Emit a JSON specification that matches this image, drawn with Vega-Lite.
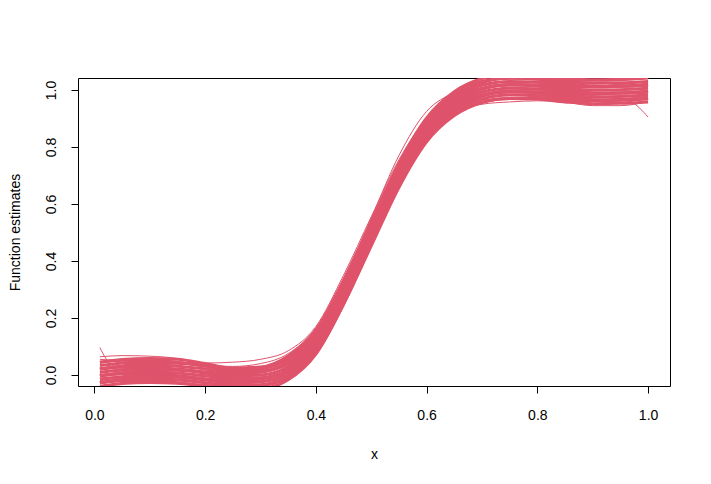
{
  "$schema": "https://vega.github.io/schema/vega-lite/v6.json",
  "width": 592,
  "height": 308,
  "autosize": {"type": "none"},
  "padding": {"left": 78, "top": 78, "right": 41, "bottom": 98},
  "background": "white",
  "config": {
    "view": {"stroke": "black", "strokeWidth": 1},
    "font": "Liberation Sans"
  },
  "datasets": {
    "core": [
      {"c":1,"x":0.01,"y":-0.039},{"c":1,"x":0.05,"y":-0.030},{"c":1,"x":0.1,"y":-0.026},{"c":1,"x":0.15,"y":-0.029},{"c":1,"x":0.2,"y":-0.039},{"c":1,"x":0.25,"y":-0.050},{"c":1,"x":0.3,"y":-0.048},{"c":1,"x":0.35,"y":-0.017},{"c":1,"x":0.4,"y":0.073},{"c":1,"x":0.45,"y":0.248},{"c":1,"x":0.5,"y":0.453},{"c":1,"x":0.55,"y":0.658},{"c":1,"x":0.6,"y":0.818},{"c":1,"x":0.65,"y":0.910},{"c":1,"x":0.7,"y":0.956},{"c":1,"x":0.75,"y":0.970},{"c":1,"x":0.8,"y":0.968},{"c":1,"x":0.85,"y":0.958},{"c":1,"x":0.9,"y":0.952},{"c":1,"x":0.95,"y":0.953},{"c":1,"x":1.0,"y":0.958},
      {"c":2,"x":0.01,"y":-0.027},{"c":2,"x":0.05,"y":-0.020},{"c":2,"x":0.1,"y":-0.020},{"c":2,"x":0.15,"y":-0.027},{"c":2,"x":0.2,"y":-0.037},{"c":2,"x":0.25,"y":-0.044},{"c":2,"x":0.3,"y":-0.038},{"c":2,"x":0.35,"y":-0.007},{"c":2,"x":0.4,"y":0.079},{"c":2,"x":0.45,"y":0.254},{"c":2,"x":0.5,"y":0.459},{"c":2,"x":0.55,"y":0.664},{"c":2,"x":0.6,"y":0.824},{"c":2,"x":0.65,"y":0.916},{"c":2,"x":0.7,"y":0.958},{"c":2,"x":0.75,"y":0.970},{"c":2,"x":0.8,"y":0.970},{"c":2,"x":0.85,"y":0.964},{"c":2,"x":0.9,"y":0.962},{"c":2,"x":0.95,"y":0.965},{"c":2,"x":1.0,"y":0.972},
      {"c":3,"x":0.01,"y":-0.027},{"c":3,"x":0.05,"y":-0.018},{"c":3,"x":0.1,"y":-0.014},{"c":3,"x":0.15,"y":-0.017},{"c":3,"x":0.2,"y":-0.027},{"c":3,"x":0.25,"y":-0.038},{"c":3,"x":0.3,"y":-0.036},{"c":3,"x":0.35,"y":-0.005},{"c":3,"x":0.4,"y":0.085},{"c":3,"x":0.45,"y":0.260},{"c":3,"x":0.5,"y":0.465},{"c":3,"x":0.55,"y":0.670},{"c":3,"x":0.6,"y":0.830},{"c":3,"x":0.65,"y":0.922},{"c":3,"x":0.7,"y":0.968},{"c":3,"x":0.75,"y":0.982},{"c":3,"x":0.8,"y":0.980},{"c":3,"x":0.85,"y":0.970},{"c":3,"x":0.9,"y":0.964},{"c":3,"x":0.95,"y":0.965},{"c":3,"x":1.0,"y":0.970},
      {"c":4,"x":0.01,"y":-0.027},{"c":4,"x":0.05,"y":-0.016},{"c":4,"x":0.1,"y":-0.008},{"c":4,"x":0.15,"y":-0.007},{"c":4,"x":0.2,"y":-0.017},{"c":4,"x":0.25,"y":-0.032},{"c":4,"x":0.3,"y":-0.034},{"c":4,"x":0.35,"y":-0.003},{"c":4,"x":0.4,"y":0.091},{"c":4,"x":0.45,"y":0.266},{"c":4,"x":0.5,"y":0.471},{"c":4,"x":0.55,"y":0.676},{"c":4,"x":0.6,"y":0.836},{"c":4,"x":0.65,"y":0.928},{"c":4,"x":0.7,"y":0.978},{"c":4,"x":0.75,"y":0.994},{"c":4,"x":0.8,"y":0.990},{"c":4,"x":0.85,"y":0.976},{"c":4,"x":0.9,"y":0.966},{"c":4,"x":0.95,"y":0.965},{"c":4,"x":1.0,"y":0.968},
      {"c":5,"x":0.01,"y":-0.015},{"c":5,"x":0.05,"y":-0.006},{"c":5,"x":0.1,"y":-0.002},{"c":5,"x":0.15,"y":-0.005},{"c":5,"x":0.2,"y":-0.015},{"c":5,"x":0.25,"y":-0.026},{"c":5,"x":0.3,"y":-0.024},{"c":5,"x":0.35,"y":0.007},{"c":5,"x":0.4,"y":0.097},{"c":5,"x":0.45,"y":0.272},{"c":5,"x":0.5,"y":0.477},{"c":5,"x":0.55,"y":0.682},{"c":5,"x":0.6,"y":0.842},{"c":5,"x":0.65,"y":0.934},{"c":5,"x":0.7,"y":0.980},{"c":5,"x":0.75,"y":0.994},{"c":5,"x":0.8,"y":0.992},{"c":5,"x":0.85,"y":0.982},{"c":5,"x":0.9,"y":0.976},{"c":5,"x":0.95,"y":0.977},{"c":5,"x":1.0,"y":0.982},
      {"c":6,"x":0.01,"y":-0.003},{"c":6,"x":0.05,"y":0.004},{"c":6,"x":0.1,"y":0.004},{"c":6,"x":0.15,"y":-0.003},{"c":6,"x":0.2,"y":-0.013},{"c":6,"x":0.25,"y":-0.020},{"c":6,"x":0.3,"y":-0.014},{"c":6,"x":0.35,"y":0.017},{"c":6,"x":0.4,"y":0.103},{"c":6,"x":0.45,"y":0.278},{"c":6,"x":0.5,"y":0.483},{"c":6,"x":0.55,"y":0.688},{"c":6,"x":0.6,"y":0.848},{"c":6,"x":0.65,"y":0.940},{"c":6,"x":0.7,"y":0.982},{"c":6,"x":0.75,"y":0.994},{"c":6,"x":0.8,"y":0.994},{"c":6,"x":0.85,"y":0.988},{"c":6,"x":0.9,"y":0.986},{"c":6,"x":0.95,"y":0.989},{"c":6,"x":1.0,"y":0.996},
      {"c":7,"x":0.01,"y":-0.003},{"c":7,"x":0.05,"y":0.006},{"c":7,"x":0.1,"y":0.010},{"c":7,"x":0.15,"y":0.007},{"c":7,"x":0.2,"y":-0.003},{"c":7,"x":0.25,"y":-0.014},{"c":7,"x":0.3,"y":-0.012},{"c":7,"x":0.35,"y":0.019},{"c":7,"x":0.4,"y":0.109},{"c":7,"x":0.45,"y":0.284},{"c":7,"x":0.5,"y":0.489},{"c":7,"x":0.55,"y":0.694},{"c":7,"x":0.6,"y":0.854},{"c":7,"x":0.65,"y":0.946},{"c":7,"x":0.7,"y":0.992},{"c":7,"x":0.75,"y":1.006},{"c":7,"x":0.8,"y":1.004},{"c":7,"x":0.85,"y":0.994},{"c":7,"x":0.9,"y":0.988},{"c":7,"x":0.95,"y":0.989},{"c":7,"x":1.0,"y":0.994},
      {"c":8,"x":0.01,"y":-0.003},{"c":8,"x":0.05,"y":0.008},{"c":8,"x":0.1,"y":0.016},{"c":8,"x":0.15,"y":0.017},{"c":8,"x":0.2,"y":0.007},{"c":8,"x":0.25,"y":-0.008},{"c":8,"x":0.3,"y":-0.010},{"c":8,"x":0.35,"y":0.021},{"c":8,"x":0.4,"y":0.115},{"c":8,"x":0.45,"y":0.290},{"c":8,"x":0.5,"y":0.495},{"c":8,"x":0.55,"y":0.700},{"c":8,"x":0.6,"y":0.860},{"c":8,"x":0.65,"y":0.952},{"c":8,"x":0.7,"y":1.002},{"c":8,"x":0.75,"y":1.018},{"c":8,"x":0.8,"y":1.014},{"c":8,"x":0.85,"y":1.000},{"c":8,"x":0.9,"y":0.990},{"c":8,"x":0.95,"y":0.989},{"c":8,"x":1.0,"y":0.992},
      {"c":9,"x":0.01,"y":0.009},{"c":9,"x":0.05,"y":0.018},{"c":9,"x":0.1,"y":0.022},{"c":9,"x":0.15,"y":0.019},{"c":9,"x":0.2,"y":0.009},{"c":9,"x":0.25,"y":-0.002},{"c":9,"x":0.3,"y":0.000},{"c":9,"x":0.35,"y":0.031},{"c":9,"x":0.4,"y":0.121},{"c":9,"x":0.45,"y":0.296},{"c":9,"x":0.5,"y":0.501},{"c":9,"x":0.55,"y":0.706},{"c":9,"x":0.6,"y":0.866},{"c":9,"x":0.65,"y":0.958},{"c":9,"x":0.7,"y":1.004},{"c":9,"x":0.75,"y":1.018},{"c":9,"x":0.8,"y":1.016},{"c":9,"x":0.85,"y":1.006},{"c":9,"x":0.9,"y":1.000},{"c":9,"x":0.95,"y":1.001},{"c":9,"x":1.0,"y":1.006},
      {"c":10,"x":0.01,"y":0.021},{"c":10,"x":0.05,"y":0.028},{"c":10,"x":0.1,"y":0.028},{"c":10,"x":0.15,"y":0.021},{"c":10,"x":0.2,"y":0.011},{"c":10,"x":0.25,"y":0.004},{"c":10,"x":0.3,"y":0.010},{"c":10,"x":0.35,"y":0.041},{"c":10,"x":0.4,"y":0.127},{"c":10,"x":0.45,"y":0.302},{"c":10,"x":0.5,"y":0.507},{"c":10,"x":0.55,"y":0.712},{"c":10,"x":0.6,"y":0.872},{"c":10,"x":0.65,"y":0.964},{"c":10,"x":0.7,"y":1.006},{"c":10,"x":0.75,"y":1.018},{"c":10,"x":0.8,"y":1.018},{"c":10,"x":0.85,"y":1.012},{"c":10,"x":0.9,"y":1.010},{"c":10,"x":0.95,"y":1.013},{"c":10,"x":1.0,"y":1.020},
      {"c":11,"x":0.01,"y":0.021},{"c":11,"x":0.05,"y":0.030},{"c":11,"x":0.1,"y":0.034},{"c":11,"x":0.15,"y":0.031},{"c":11,"x":0.2,"y":0.021},{"c":11,"x":0.25,"y":0.010},{"c":11,"x":0.3,"y":0.012},{"c":11,"x":0.35,"y":0.043},{"c":11,"x":0.4,"y":0.133},{"c":11,"x":0.45,"y":0.308},{"c":11,"x":0.5,"y":0.513},{"c":11,"x":0.55,"y":0.718},{"c":11,"x":0.6,"y":0.878},{"c":11,"x":0.65,"y":0.970},{"c":11,"x":0.7,"y":1.016},{"c":11,"x":0.75,"y":1.030},{"c":11,"x":0.8,"y":1.028},{"c":11,"x":0.85,"y":1.018},{"c":11,"x":0.9,"y":1.012},{"c":11,"x":0.95,"y":1.013},{"c":11,"x":1.0,"y":1.018},
      {"c":12,"x":0.01,"y":0.021},{"c":12,"x":0.05,"y":0.032},{"c":12,"x":0.1,"y":0.040},{"c":12,"x":0.15,"y":0.041},{"c":12,"x":0.2,"y":0.031},{"c":12,"x":0.25,"y":0.016},{"c":12,"x":0.3,"y":0.014},{"c":12,"x":0.35,"y":0.045},{"c":12,"x":0.4,"y":0.139},{"c":12,"x":0.45,"y":0.314},{"c":12,"x":0.5,"y":0.519},{"c":12,"x":0.55,"y":0.724},{"c":12,"x":0.6,"y":0.884},{"c":12,"x":0.65,"y":0.976},{"c":12,"x":0.7,"y":1.026},{"c":12,"x":0.75,"y":1.042},{"c":12,"x":0.8,"y":1.038},{"c":12,"x":0.85,"y":1.024},{"c":12,"x":0.9,"y":1.014},{"c":12,"x":0.95,"y":1.013},{"c":12,"x":1.0,"y":1.016},
      {"c":13,"x":0.01,"y":0.033},{"c":13,"x":0.05,"y":0.042},{"c":13,"x":0.1,"y":0.046},{"c":13,"x":0.15,"y":0.043},{"c":13,"x":0.2,"y":0.033},{"c":13,"x":0.25,"y":0.020},{"c":13,"x":0.3,"y":0.022},{"c":13,"x":0.35,"y":0.055},{"c":13,"x":0.4,"y":0.145},{"c":13,"x":0.45,"y":0.320},{"c":13,"x":0.5,"y":0.525},{"c":13,"x":0.55,"y":0.730},{"c":13,"x":0.6,"y":0.890},{"c":13,"x":0.65,"y":0.982},{"c":13,"x":0.7,"y":1.028},{"c":13,"x":0.75,"y":1.042},{"c":13,"x":0.8,"y":1.040},{"c":13,"x":0.85,"y":1.030},{"c":13,"x":0.9,"y":1.024},{"c":13,"x":0.95,"y":1.025},{"c":13,"x":1.0,"y":1.030},
      {"c":14,"x":0.01,"y":0.045},{"c":14,"x":0.05,"y":0.052},{"c":14,"x":0.1,"y":0.052},{"c":14,"x":0.15,"y":0.045},{"c":14,"x":0.2,"y":0.033},{"c":14,"x":0.25,"y":0.020},{"c":14,"x":0.3,"y":0.026},{"c":14,"x":0.35,"y":0.063},{"c":14,"x":0.4,"y":0.151},{"c":14,"x":0.45,"y":0.326},{"c":14,"x":0.5,"y":0.531},{"c":14,"x":0.55,"y":0.736},{"c":14,"x":0.6,"y":0.896},{"c":14,"x":0.65,"y":0.988},{"c":14,"x":0.7,"y":1.030},{"c":14,"x":0.75,"y":1.042},{"c":14,"x":0.8,"y":1.042},{"c":14,"x":0.85,"y":1.036},{"c":14,"x":0.9,"y":1.034},{"c":14,"x":0.95,"y":1.037},{"c":14,"x":1.0,"y":1.044},
      {"c":15,"x":0.01,"y":0.045},{"c":15,"x":0.05,"y":0.054},{"c":15,"x":0.1,"y":0.058},{"c":15,"x":0.15,"y":0.055},{"c":15,"x":0.2,"y":0.040},{"c":15,"x":0.25,"y":0.024},{"c":15,"x":0.3,"y":0.028},{"c":15,"x":0.35,"y":0.067},{"c":15,"x":0.4,"y":0.157},{"c":15,"x":0.45,"y":0.332},{"c":15,"x":0.5,"y":0.537},{"c":15,"x":0.55,"y":0.742},{"c":15,"x":0.6,"y":0.902},{"c":15,"x":0.65,"y":0.994},{"c":15,"x":0.7,"y":1.040},{"c":15,"x":0.75,"y":1.054},{"c":15,"x":0.8,"y":1.052},{"c":15,"x":0.85,"y":1.042},{"c":15,"x":0.9,"y":1.036},{"c":15,"x":0.95,"y":1.037},{"c":15,"x":1.0,"y":1.042}
    ],
    "extra": [
      {"c":1,"x":0.01,"y":0.096},{"c":1,"x":0.03,"y":0.037},{"c":1,"x":0.05,"y":0.025},{"c":1,"x":0.1,"y":0.028},{"c":1,"x":0.15,"y":0.02},{"c":1,"x":0.2,"y":0.008},{"c":1,"x":0.25,"y":-0.004},{"c":1,"x":0.3,"y":0.0},{"c":1,"x":0.35,"y":0.03},{"c":1,"x":0.4,"y":0.12},{"c":1,"x":0.45,"y":0.295},{"c":1,"x":0.5,"y":0.5},{"c":1,"x":0.55,"y":0.705},{"c":1,"x":0.6,"y":0.865},{"c":1,"x":0.65,"y":0.955},{"c":1,"x":0.7,"y":1.0},{"c":1,"x":0.75,"y":1.015},{"c":1,"x":0.8,"y":1.012},{"c":1,"x":0.85,"y":1.0},{"c":1,"x":0.9,"y":0.99},{"c":1,"x":0.95,"y":0.99},{"c":1,"x":1.0,"y":0.995},
      {"c":2,"x":0.01,"y":0.064},{"c":2,"x":0.05,"y":0.068},{"c":2,"x":0.1,"y":0.066},{"c":2,"x":0.15,"y":0.058},{"c":2,"x":0.2,"y":0.038},{"c":2,"x":0.25,"y":0.03},{"c":2,"x":0.3,"y":0.04},{"c":2,"x":0.35,"y":0.075},{"c":2,"x":0.4,"y":0.165},{"c":2,"x":0.45,"y":0.34},{"c":2,"x":0.5,"y":0.545},{"c":2,"x":0.55,"y":0.745},{"c":2,"x":0.6,"y":0.895},{"c":2,"x":0.65,"y":0.98},{"c":2,"x":0.7,"y":1.02},{"c":2,"x":0.75,"y":1.03},{"c":2,"x":0.8,"y":1.025},{"c":2,"x":0.85,"y":1.015},{"c":2,"x":0.9,"y":1.012},{"c":2,"x":0.95,"y":1.02},{"c":2,"x":1.0,"y":1.03},
      {"c":3,"x":0.01,"y":0.055},{"c":3,"x":0.05,"y":0.05},{"c":3,"x":0.1,"y":0.048},{"c":3,"x":0.15,"y":0.045},{"c":3,"x":0.2,"y":0.042},{"c":3,"x":0.25,"y":0.045},{"c":3,"x":0.3,"y":0.055},{"c":3,"x":0.35,"y":0.085},{"c":3,"x":0.4,"y":0.17},{"c":3,"x":0.45,"y":0.35},{"c":3,"x":0.5,"y":0.555},{"c":3,"x":0.55,"y":0.755},{"c":3,"x":0.6,"y":0.9},{"c":3,"x":0.65,"y":0.985},{"c":3,"x":0.7,"y":1.025},{"c":3,"x":0.75,"y":1.04},{"c":3,"x":0.8,"y":1.04},{"c":3,"x":0.85,"y":1.035},{"c":3,"x":0.9,"y":1.035},{"c":3,"x":0.95,"y":1.04},{"c":3,"x":1.0,"y":1.05},
      {"c":4,"x":0.01,"y":-0.01},{"c":4,"x":0.05,"y":-0.005},{"c":4,"x":0.1,"y":0.0},{"c":4,"x":0.15,"y":0.0},{"c":4,"x":0.2,"y":-0.012},{"c":4,"x":0.25,"y":-0.025},{"c":4,"x":0.3,"y":-0.02},{"c":4,"x":0.35,"y":0.012},{"c":4,"x":0.4,"y":0.095},{"c":4,"x":0.45,"y":0.26},{"c":4,"x":0.5,"y":0.465},{"c":4,"x":0.55,"y":0.67},{"c":4,"x":0.6,"y":0.83},{"c":4,"x":0.65,"y":0.915},{"c":4,"x":0.7,"y":0.95},{"c":4,"x":0.75,"y":0.958},{"c":4,"x":0.8,"y":0.962},{"c":4,"x":0.85,"y":0.958},{"c":4,"x":0.9,"y":0.95},{"c":4,"x":0.95,"y":0.955},{"c":4,"x":1.0,"y":0.97},
      {"c":5,"x":0.01,"y":0.02},{"c":5,"x":0.05,"y":0.01},{"c":5,"x":0.1,"y":0.005},{"c":5,"x":0.15,"y":0.005},{"c":5,"x":0.2,"y":0.0},{"c":5,"x":0.25,"y":-0.005},{"c":5,"x":0.3,"y":0.0},{"c":5,"x":0.35,"y":0.03},{"c":5,"x":0.4,"y":0.11},{"c":5,"x":0.45,"y":0.27},{"c":5,"x":0.5,"y":0.47},{"c":5,"x":0.55,"y":0.675},{"c":5,"x":0.6,"y":0.84},{"c":5,"x":0.65,"y":0.925},{"c":5,"x":0.7,"y":0.965},{"c":5,"x":0.75,"y":0.97},{"c":5,"x":0.8,"y":0.97},{"c":5,"x":0.85,"y":0.958},{"c":5,"x":0.9,"y":0.945},{"c":5,"x":0.95,"y":0.945},{"c":5,"x":1.0,"y":0.96},
      {"c":6,"x":0.01,"y":-0.02},{"c":6,"x":0.05,"y":-0.01},{"c":6,"x":0.1,"y":-0.005},{"c":6,"x":0.15,"y":-0.01},{"c":6,"x":0.2,"y":-0.02},{"c":6,"x":0.25,"y":-0.03},{"c":6,"x":0.3,"y":-0.025},{"c":6,"x":0.35,"y":0.005},{"c":6,"x":0.4,"y":0.1},{"c":6,"x":0.45,"y":0.275},{"c":6,"x":0.5,"y":0.485},{"c":6,"x":0.55,"y":0.69},{"c":6,"x":0.6,"y":0.85},{"c":6,"x":0.65,"y":0.94},{"c":6,"x":0.7,"y":0.985},{"c":6,"x":0.75,"y":1.0},{"c":6,"x":0.8,"y":1.0},{"c":6,"x":0.85,"y":0.99},{"c":6,"x":0.9,"y":0.98},{"c":6,"x":0.95,"y":0.968},{"c":6,"x":0.97,"y":0.958},{"c":6,"x":1.0,"y":0.905},
      {"c":7,"x":0.01,"y":0.01},{"c":7,"x":0.05,"y":0.02},{"c":7,"x":0.1,"y":0.025},{"c":7,"x":0.15,"y":0.02},{"c":7,"x":0.2,"y":0.01},{"c":7,"x":0.25,"y":0.0},{"c":7,"x":0.3,"y":0.01},{"c":7,"x":0.35,"y":0.05},{"c":7,"x":0.4,"y":0.15},{"c":7,"x":0.45,"y":0.33},{"c":7,"x":0.5,"y":0.55},{"c":7,"x":0.55,"y":0.77},{"c":7,"x":0.6,"y":0.925},{"c":7,"x":0.65,"y":0.99},{"c":7,"x":0.7,"y":1.02},{"c":7,"x":0.75,"y":1.03},{"c":7,"x":0.8,"y":1.03},{"c":7,"x":0.85,"y":1.02},{"c":7,"x":0.9,"y":1.015},{"c":7,"x":0.95,"y":1.02},{"c":7,"x":1.0,"y":1.03},
      {"c":8,"x":0.01,"y":-0.03},{"c":8,"x":0.05,"y":-0.02},{"c":8,"x":0.1,"y":-0.015},{"c":8,"x":0.15,"y":-0.02},{"c":8,"x":0.2,"y":-0.03},{"c":8,"x":0.25,"y":-0.04},{"c":8,"x":0.3,"y":-0.035},{"c":8,"x":0.35,"y":-0.01},{"c":8,"x":0.4,"y":0.07},{"c":8,"x":0.45,"y":0.24},{"c":8,"x":0.5,"y":0.45},{"c":8,"x":0.55,"y":0.66},{"c":8,"x":0.6,"y":0.825},{"c":8,"x":0.65,"y":0.92},{"c":8,"x":0.7,"y":0.97},{"c":8,"x":0.75,"y":0.985},{"c":8,"x":0.8,"y":0.985},{"c":8,"x":0.85,"y":0.975},{"c":8,"x":0.9,"y":0.968},{"c":8,"x":0.95,"y":0.97},{"c":8,"x":1.0,"y":0.978}
    ]
  },
  "encoding": {
    "x": {
      "field": "x", "type": "quantitative",
      "scale": {"domain": [-0.0296, 1.0396], "nice": false, "zero": false},
      "axis": {
        "values": [0, 0.2, 0.4, 0.6, 0.8, 1.0], "format": ".1f",
        "grid": false, "domain": false, "ticks": true, "tickSize": 7, "tickColor": "black",
        "labelFont": "Liberation Sans", "labelFontSize": 14, "labelColor": "black", "labelPadding": 15,
        "title": "x", "titleFont": "Liberation Sans", "titleFontSize": 14, "titleFontWeight": "normal", "titleColor": "black", "titlePadding": 25
      }
    },
    "y": {
      "field": "y", "type": "quantitative",
      "scale": {"domain": [-0.0386, 1.042], "nice": false, "zero": false},
      "axis": {
        "values": [0, 0.2, 0.4, 0.6, 0.8, 1.0], "format": ".1f",
        "grid": false, "domain": false, "ticks": true, "tickSize": 7, "tickColor": "black",
        "labelFont": "Liberation Sans", "labelFontSize": 14, "labelColor": "black", "labelPadding": 13,
        "labelAngle": -90, "labelAlign": "center", "labelBaseline": "bottom",
        "title": "Function estimates", "titleFont": "Liberation Sans", "titleFontSize": 14, "titleFontWeight": "normal", "titleColor": "black", "titlePadding": 22
      }
    },
    "detail": {"field": "c", "type": "nominal"}
  },
  "layer": [
    {
      "data": {"name": "core"},
      "mark": {"type": "line", "color": "#DF536B", "strokeWidth": 3, "interpolate": "monotone", "clip": true}
    },
    {
      "data": {"name": "extra"},
      "mark": {"type": "line", "color": "#DF536B", "strokeWidth": 1, "interpolate": "monotone", "clip": true}
    }
  ]
}
